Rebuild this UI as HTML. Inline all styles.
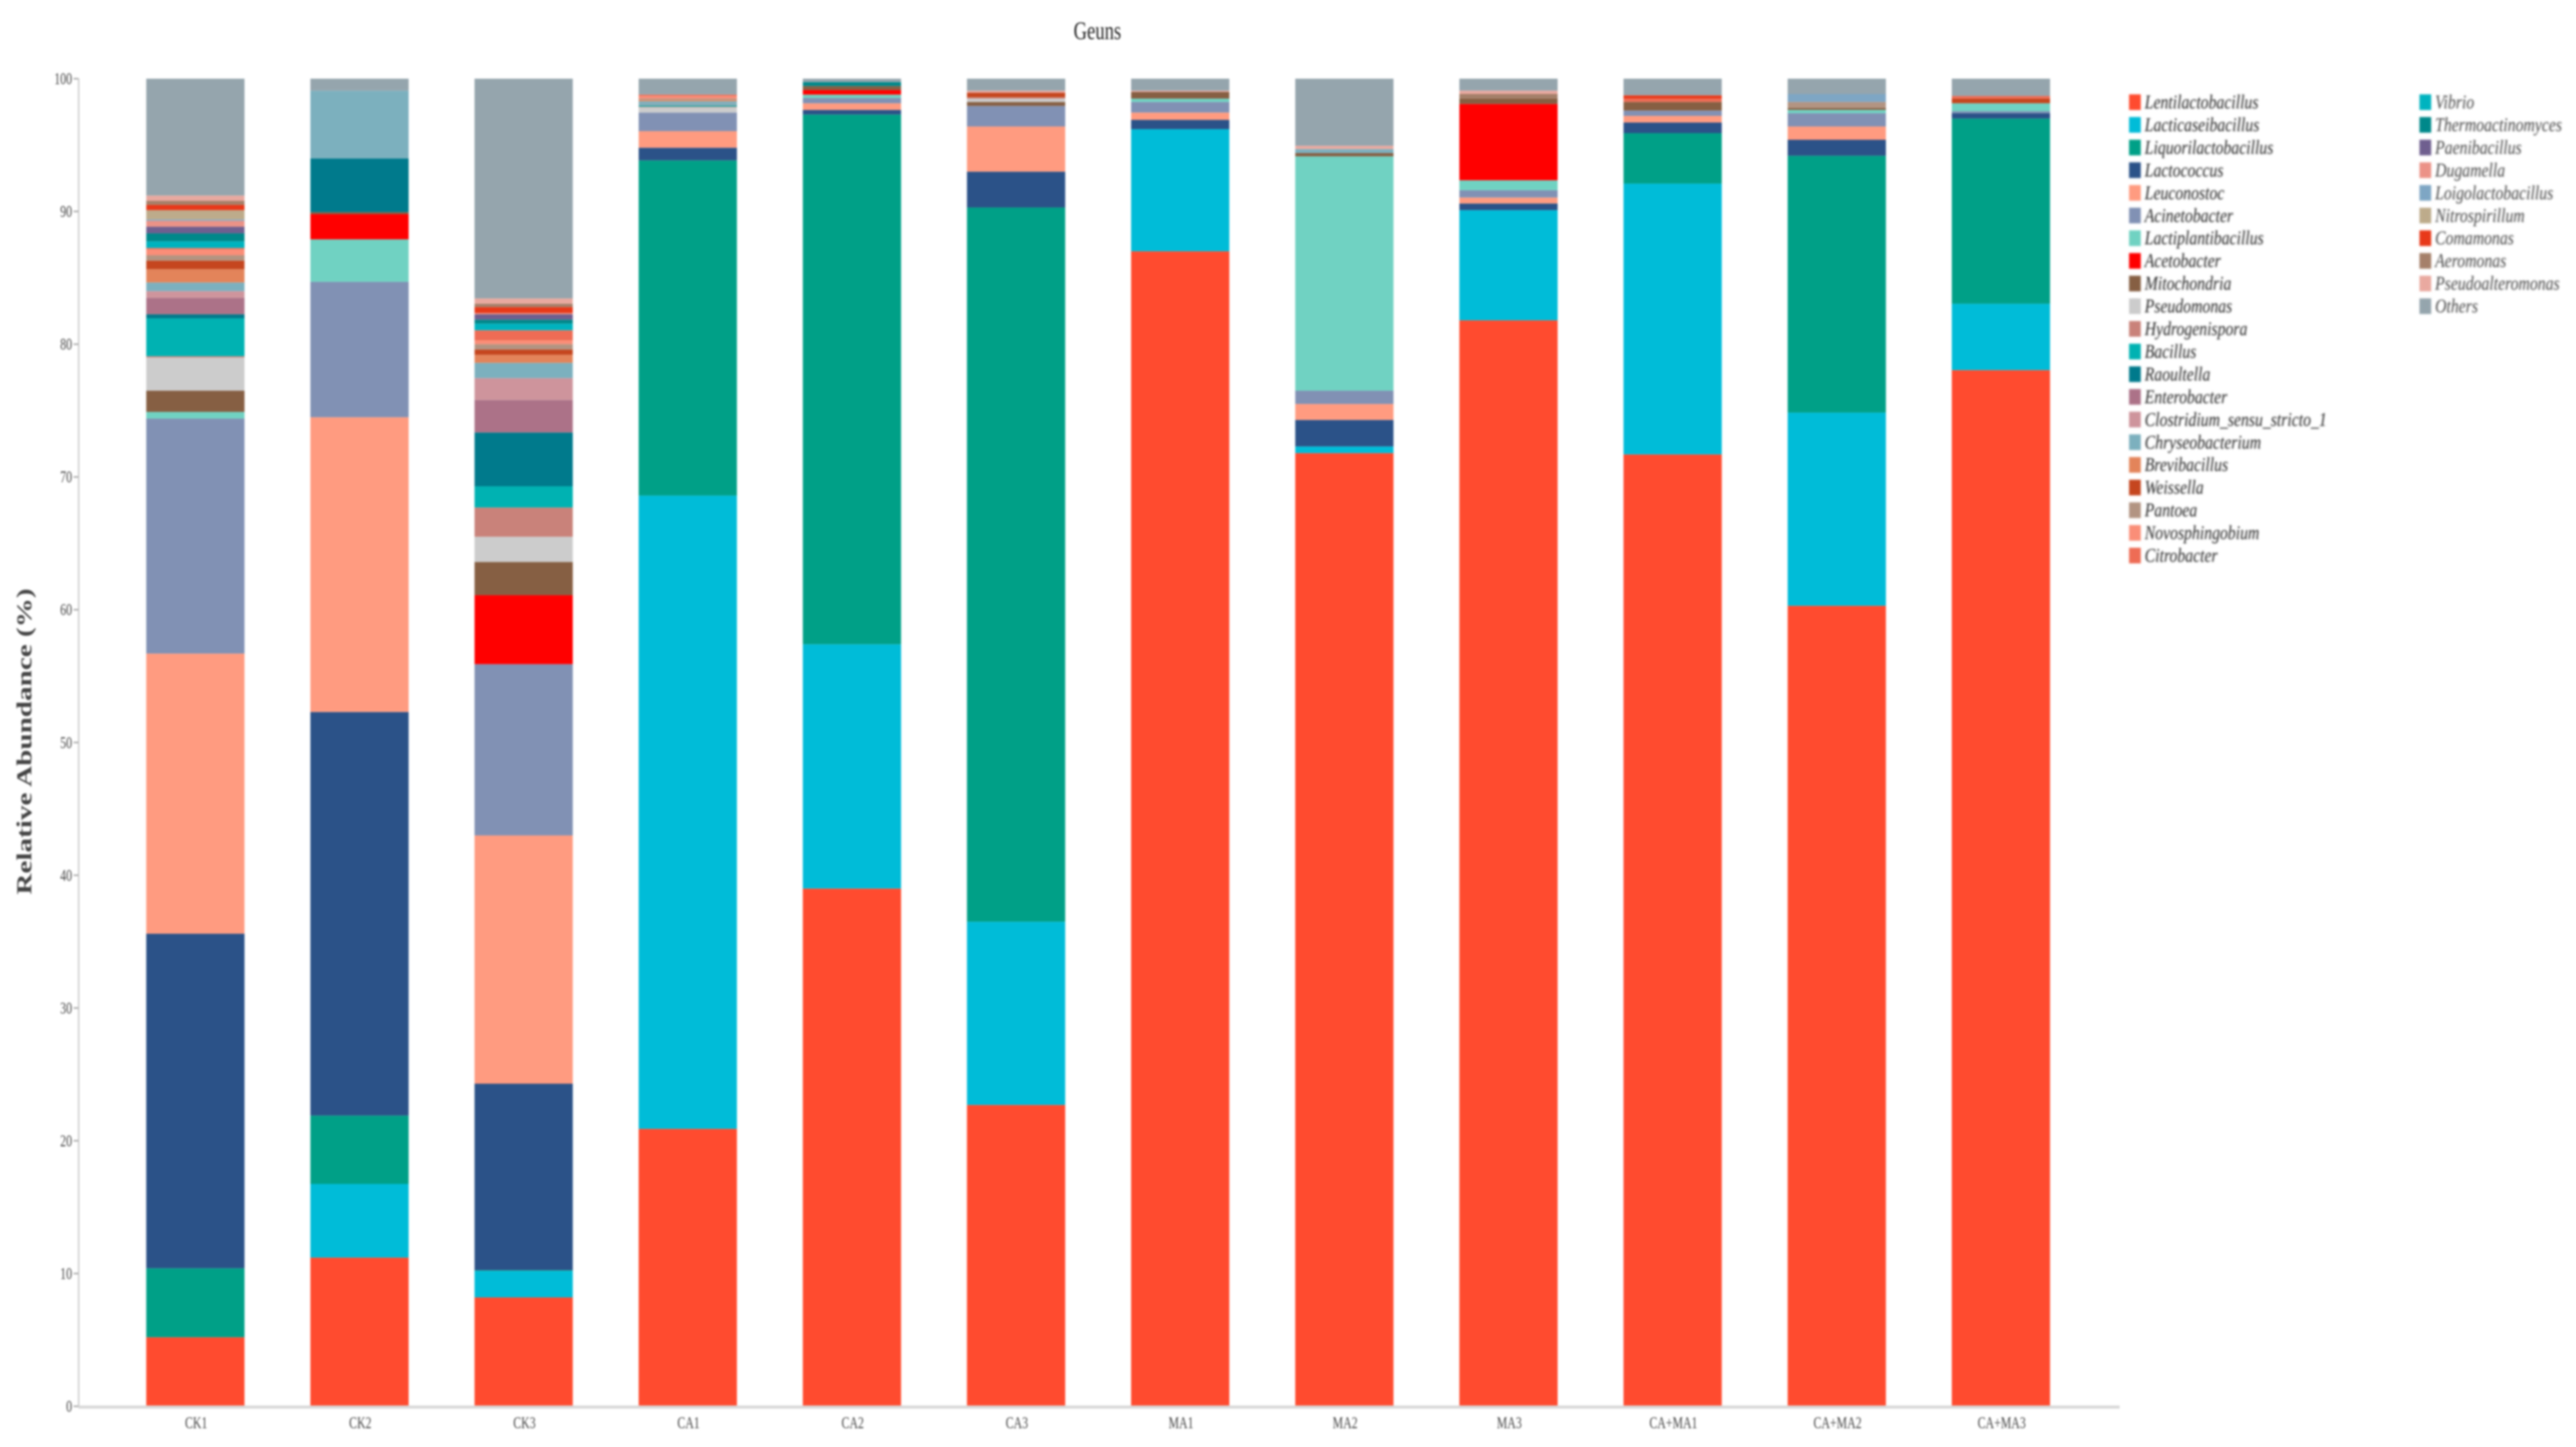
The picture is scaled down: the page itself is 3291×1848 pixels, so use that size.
<!DOCTYPE html>
<html lang="en">
<head>
<meta charset="utf-8">
<title>Geuns - Relative Abundance</title>
<style>
html,body{margin:0;padding:0;background:#fff;}
body{width:3291px;height:1848px;overflow:hidden;}
svg{display:block;}
text{font-family:"Liberation Serif",serif;}
</style>
</head>
<body>
<svg id="chart" xmlns="http://www.w3.org/2000/svg" width="3291" height="1848" viewBox="0 0 3291 1848">
  <rect x="0" y="0" width="3291" height="1848" fill="#ffffff"/>
  <g id="blurred" style="filter:blur(1.4px)">
    <g id="bars"></g>
    <g id="axes">
      <line x1="100.5" y1="100" x2="100.5" y2="1796" stroke="#cfcfcf" stroke-width="2"/>
      <line x1="100" y1="1797" x2="2708" y2="1797" stroke="#d8d8d8" stroke-width="4"/>
    </g>
    <g id="legend" style="filter:blur(0.8px)"></g>
    <text transform="translate(1402,50) scale(0.72,1)" text-anchor="middle" font-size="33" fill="#222">Geuns</text>
    <text transform="translate(40,947) rotate(-90) scale(1.38,1)" text-anchor="middle" font-size="27" fill="#444" font-weight="bold">Relative Abundance (%)</text>
  </g>
</svg>
<script>
const categories = ["CK1","CK2","CK3","CA1","CA2","CA3","MA1","MA2","MA3","CA+MA1","CA+MA2","CA+MA3"];
const genera = ["Lentilactobacillus","Lacticaseibacillus","Liquorilactobacillus","Lactococcus","Leuconostoc","Acinetobacter","Lactiplantibacillus","Acetobacter","Mitochondria","Pseudomonas","Hydrogenispora","Bacillus","Raoultella","Enterobacter","Clostridium_sensu_stricto_1","Chryseobacterium","Brevibacillus","Weissella","Pantoea","Novosphingobium","Citrobacter","Vibrio","Thermoactinomyces","Paenibacillus","Dugamella","Loigolactobacillus","Nitrospirillum","Comamonas","Aeromonas","Pseudoalteromonas","Others"];
const genusColors = ["#FF4B2F","#00BCD8","#00A087","#2B5288","#FF9B80","#8191B4","#70D2C2","#FF0000","#865F43","#CCCCCC","#C9827A","#00B2B2","#007A8C","#AC7288","#CE949C","#7CB0BE","#E3845A","#C5461F","#B29482","#FA8E78","#EE6C55","#00B3BF","#00888A","#6F5F8F","#EB9287","#7EA6C4","#BDAB8B","#E8391A","#A5806A","#E9A9A0","#95A5AD"];
const yTicks = [0,10,20,30,40,50,60,70,80,90,100];

const ck1 = [5.2,0,5.2,25.2,21.1,17.7,0.5,0,1.6,2.5,0.1,2.85,0.3,1.25,0.5,0.65,1.0,0.65,0.4,0.45,0.1,0.5,0.6,0.5,0.45,0.1,0.7,0.4,0.3,0.4,8.8];
const ck2 = [11.2,5.55,5.15,30.4,22.2,10.2,3.2,1.9,0.15,0,0,0,4.05,0,0,5.1,0,0,0,0,0,0,0,0,0,0,0,0,0,0,0.9];
const ck3 = [8.2,2.0,0.05,14.05,18.7,12.9,0,5.2,2.5,1.9,2.2,1.6,4.05,2.45,1.65,1.15,0.6,0.4,0.4,0.3,0.75,0.5,0.3,0.4,0.1,0,0,0.45,0.25,0.4,16.55];
const ca1 = [20.9,47.7,25.25,0.95,1.25,1.4,0,0,0,0.4,0.05,0.1,0,0,0.05,0.25,0.1,0,0.1,0.2,0.1,0,0,0,0,0,0,0,0,0,1.2];
const ca2 = [39.0,18.4,39.9,0.35,0.5,0.4,0.25,0.35,0.3,0,0,0,0,0,0,0,0,0,0,0,0,0,0.3,0,0,0,0,0,0,0,0.25];
const ca3 = [22.7,13.8,53.8,2.7,3.4,1.55,0,0,0.3,0.25,0.1,0,0,0,0,0,0,0.35,0,0,0,0,0,0,0,0,0,0,0,0.15,0.9];
const ma1 = [87.0,9.2,0,0.7,0.55,0.8,0.25,0,0.5,0,0,0,0,0,0,0,0,0,0,0,0,0,0,0,0,0,0,0,0,0.1,0.9];
const ma2 = [71.8,0.5,0,2.0,1.2,1.0,17.65,0,0.25,0,0,0,0,0,0,0.3,0,0,0,0,0,0,0,0,0,0,0,0,0,0.25,5.05];
const ma3 = [81.8,8.3,0,0.5,0.45,0.55,0.75,5.75,0.4,0,0,0,0,0,0,0,0,0,0,0,0,0,0,0,0,0,0,0,0.35,0.25,0.9];
const caMa1 = [71.7,20.4,3.8,0.8,0.5,0.4,0,0,0.65,0,0,0,0,0,0,0,0,0,0,0,0.25,0,0,0,0,0,0,0.25,0,0,1.25];
const caMa2 = [60.3,14.55,19.35,1.2,1.0,1.0,0.25,0,0.15,0,0,0,0,0,0,0,0,0,0.45,0,0,0,0,0,0,0.6,0,0,0,0,1.15];
const caMa3 = [78.05,5.0,13.95,0.4,0,0.15,0.6,0,0,0,0,0,0,0,0,0,0,0.35,0,0,0.2,0,0,0,0,0,0,0,0,0,1.3];
const samples = [ck1,ck2,ck3,ca1,ca2,ca3,ma1,ma2,ma3,caMa1,caMa2,caMa3];

const NS = "http://www.w3.org/2000/svg";
const barsLayer = document.getElementById("bars");
const axesLayer = document.getElementById("axes");
const legendLayer = document.getElementById("legend");

function yScale(v){ return 1796 - v * 16.955; }
function xCenter(i){ return 249.6 + i * 209.7; }
const barWidth = 125.5;
function slug(s){ return s.toLowerCase().replace(/[^a-z0-9]+/g, "-").replace(/^-|-$/g, ""); }

samples.forEach(function(values, i){
  let running = 0;
  values.forEach(function(v, s){
    if (v <= 0) return;
    const top = yScale(running + v);
    const bottom = yScale(running);
    const r = document.createElementNS(NS, "rect");
    
    
    r.setAttribute("x", xCenter(i) - barWidth / 2);
    r.setAttribute("y", top);
    r.setAttribute("width", barWidth);
    r.setAttribute("height", bottom - top);
    r.setAttribute("fill", genusColors[s]);
    barsLayer.appendChild(r);
    running += v;
  });

  const label = document.createElementNS(NS, "text");
  
  
  label.setAttribute("transform", "translate(" + (xCenter(i) + 1) + ",1824) scale(0.72,1)");
  label.setAttribute("text-anchor", "middle");
  label.setAttribute("font-size", "21");
  label.setAttribute("fill", "#444");
  label.textContent = categories[i];
  axesLayer.appendChild(label);
});

yTicks.forEach(function(t){
  const y = yScale(t);
  const mark = document.createElementNS(NS, "line");
  
  
  mark.setAttribute("x1", 94);
  mark.setAttribute("x2", 100);
  mark.setAttribute("y1", y);
  mark.setAttribute("y2", y);
  mark.setAttribute("stroke", "#aaa");
  mark.setAttribute("stroke-width", "2");
  axesLayer.appendChild(mark);

  const label = document.createElementNS(NS, "text");
  
  
  label.setAttribute("transform", "translate(92," + (y + 7) + ") scale(0.72,1)");
  label.setAttribute("text-anchor", "end");
  label.setAttribute("font-size", "21");
  label.setAttribute("fill", "#444");
  label.textContent = t;
  axesLayer.appendChild(label);
});

genera.forEach(function(name, s){
  const col = s < 21 ? 0 : 1;
  const row = col === 0 ? s : s - 21;
  const swatchX = col === 0 ? 2720 : 3091;
  const rowY = 130.5 + row * 28.95;

  const swatch = document.createElementNS(NS, "rect");
  
  
  swatch.setAttribute("x", swatchX);
  swatch.setAttribute("y", rowY - 10);
  swatch.setAttribute("width", 15);
  swatch.setAttribute("height", 20);
  swatch.setAttribute("fill", genusColors[s]);
  legendLayer.appendChild(swatch);

  const label = document.createElementNS(NS, "text");
  
  
  label.setAttribute("transform", "translate(" + (swatchX + 20) + "," + (rowY + 8) + ") scale(0.805,1)");
  label.setAttribute("font-size", "25");
  label.setAttribute("font-style", "italic");
  label.setAttribute("fill", col === 0 ? "#222" : "#444");
  label.textContent = name;
  legendLayer.appendChild(label);
});
</script>
</body>
</html>
